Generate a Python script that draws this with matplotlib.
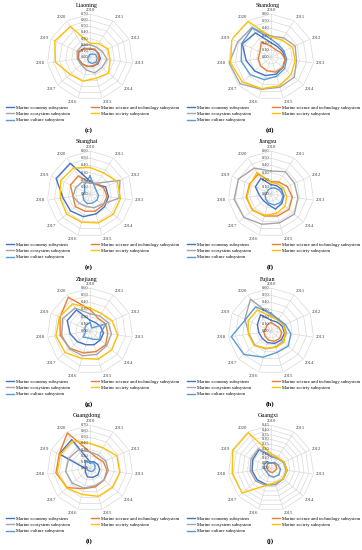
import matplotlib
matplotlib.use("Agg")
import matplotlib.pyplot as plt
import numpy as np

plt.rcParams["font.family"] = ["Liberation Serif", "DejaVu Serif"]

years = [str(y) for y in range(2010, 2021)]
series_names = [
    "Marine economy subsystem",
    "Marine science and technology subsystem",
    "Marine ecosystem subsystem",
    "Marine society subsystem",
    "Marine culture subsystem",
]
series_colors = ["#4472C4", "#ED7D31", "#A5A5A5", "#FFC000", "#5B9BD5"]

# values, 2010 ... 2020
liaoning_economy = [0.13, 0.14, 0.15, 0.17, 0.17, 0.16, 0.16, 0.17, 0.19, 0.20, 0.17]
liaoning_tech = [0.14, 0.15, 0.14, 0.15, 0.16, 0.15, 0.16, 0.17, 0.20, 0.21, 0.16]
liaoning_eco = [0.20, 0.19, 0.22, 0.28, 0.26, 0.27, 0.22, 0.19, 0.21, 0.23, 0.23]
liaoning_society = [0.22, 0.26, 0.32, 0.33, 0.40, 0.36, 0.41, 0.43, 0.57, 0.63, 0.59]
liaoning_culture = [0.04, 0.06, 0.10, 0.12, 0.13, 0.11, 0.08, 0.05, 0.03, 0.02, 0.03]

shandong_economy = [0.20, 0.17, 0.18, 0.20, 0.22, 0.25, 0.27, 0.30, 0.35, 0.44, 0.40]
shandong_tech = [0.15, 0.12, 0.15, 0.20, 0.22, 0.22, 0.20, 0.19, 0.18, 0.17, 0.25]
shandong_eco = [0.29, 0.32, 0.37, 0.36, 0.43, 0.44, 0.47, 0.57, 0.59, 0.51, 0.49]
shandong_society = [0.28, 0.28, 0.33, 0.34, 0.37, 0.42, 0.46, 0.53, 0.57, 0.60, 0.59]
shandong_culture = [0.25, 0.20, 0.20, 0.22, 0.25, 0.28, 0.33, 0.38, 0.42, 0.45, 0.48]

shanghai_economy = [0.18, 0.16, 0.24, 0.26, 0.27, 0.29, 0.33, 0.36, 0.38, 0.52, 0.51]
shanghai_tech = [0.16, 0.16, 0.21, 0.24, 0.24, 0.25, 0.25, 0.27, 0.24, 0.30, 0.30]
shanghai_eco = [0.15, 0.18, 0.46, 0.41, 0.22, 0.20, 0.18, 0.20, 0.24, 0.22, 0.20]
shanghai_society = [0.37, 0.35, 0.42, 0.43, 0.43, 0.42, 0.41, 0.43, 0.42, 0.45, 0.43]
shanghai_culture = [0.25, 0.12, 0.10, 0.12, 0.13, 0.13, 0.14, 0.12, 0.10, 0.08, 0.15]

jiangsu_economy = [0.13, 0.14, 0.16, 0.18, 0.20, 0.22, 0.15, 0.14, 0.16, 0.24, 0.26]
jiangsu_tech = [0.17, 0.20, 0.25, 0.30, 0.33, 0.32, 0.32, 0.34, 0.35, 0.33, 0.33]
jiangsu_eco = [0.32, 0.37, 0.36, 0.38, 0.43, 0.42, 0.44, 0.50, 0.52, 0.50, 0.43]
jiangsu_society = [0.16, 0.17, 0.19, 0.22, 0.26, 0.28, 0.31, 0.35, 0.34, 0.32, 0.36]
jiangsu_culture = [0.08, 0.10, 0.13, 0.17, 0.18, 0.16, 0.13, 0.10, 0.08, 0.06, 0.07]

zhejiang_economy = [0.15, 0.14, 0.16, 0.19, 0.19, 0.20, 0.20, 0.23, 0.28, 0.35, 0.35]
zhejiang_tech = [0.30, 0.21, 0.24, 0.25, 0.29, 0.30, 0.32, 0.37, 0.42, 0.46, 0.56]
zhejiang_eco = [0.24, 0.25, 0.28, 0.30, 0.31, 0.34, 0.36, 0.38, 0.40, 0.42, 0.38]
zhejiang_society = [0.32, 0.29, 0.34, 0.39, 0.40, 0.41, 0.40, 0.46, 0.48, 0.47, 0.45]
zhejiang_culture = [0.12, 0.05, 0.25, 0.15, 0.18, 0.12, 0.10, 0.13, 0.06, 0.08, 0.10]

fujian_economy = [0.15, 0.15, 0.17, 0.19, 0.19, 0.18, 0.17, 0.16, 0.17, 0.21, 0.27]
fujian_tech = [0.12, 0.10, 0.12, 0.15, 0.16, 0.15, 0.13, 0.11, 0.10, 0.08, 0.10]
fujian_eco = [0.22, 0.20, 0.20, 0.22, 0.22, 0.23, 0.26, 0.30, 0.31, 0.40, 0.53]
fujian_society = [0.20, 0.18, 0.19, 0.20, 0.24, 0.24, 0.25, 0.31, 0.32, 0.35, 0.35]
fujian_culture = [0.25, 0.19, 0.22, 0.28, 0.32, 0.31, 0.38, 0.50, 0.56, 0.39, 0.40]

guangdong_economy = [0.10, 0.12, 0.14, 0.16, 0.17, 0.16, 0.15, 0.10, 0.07, 0.55, 0.55]
guangdong_tech = [0.26, 0.20, 0.24, 0.28, 0.30, 0.32, 0.35, 0.49, 0.56, 0.55, 0.68]
guangdong_eco = [0.26, 0.25, 0.28, 0.30, 0.30, 0.30, 0.34, 0.38, 0.40, 0.38, 0.35]
guangdong_society = [0.40, 0.39, 0.48, 0.49, 0.48, 0.48, 0.45, 0.50, 0.54, 0.53, 0.52]
guangdong_culture = [0.08, 0.10, 0.09, 0.08, 0.07, 0.06, 0.05, 0.05, 0.05, 0.08, 0.15]

guangxi_economy = [0.12, 0.12, 0.15, 0.17, 0.17, 0.18, 0.18, 0.19, 0.20, 0.21, 0.23]
guangxi_tech = [0.05, 0.06, 0.06, 0.06, 0.05, 0.05, 0.04, 0.04, 0.04, 0.05, 0.06]
guangxi_eco = [0.13, 0.12, 0.14, 0.16, 0.17, 0.18, 0.19, 0.21, 0.22, 0.23, 0.24]
guangxi_society = [0.15, 0.13, 0.15, 0.17, 0.17, 0.16, 0.19, 0.40, 0.41, 0.44, 0.44]
guangxi_culture = [0.05, 0.07, 0.08, 0.10, 0.11, 0.10, 0.08, 0.06, 0.07, 0.08, 0.08]

panels = [
    ("Liaoning", "(c)", 0.70, 0.10,
     [liaoning_economy, liaoning_tech, liaoning_eco, liaoning_society, liaoning_culture]),
    ("Shandong", "(d)", 0.60, 0.10,
     [shandong_economy, shandong_tech, shandong_eco, shandong_society, shandong_culture]),
    ("Shanghai", "(e)", 0.60, 0.10,
     [shanghai_economy, shanghai_tech, shanghai_eco, shanghai_society, shanghai_culture]),
    ("Jiangsu", "(f)", 0.60, 0.10,
     [jiangsu_economy, jiangsu_tech, jiangsu_eco, jiangsu_society, jiangsu_culture]),
    ("Zhejiang", "(g)", 0.60, 0.10,
     [zhejiang_economy, zhejiang_tech, zhejiang_eco, zhejiang_society, zhejiang_culture]),
    ("Fujian", "(h)", 0.60, 0.10,
     [fujian_economy, fujian_tech, fujian_eco, fujian_society, fujian_culture]),
    ("Guangdong", "(i)", 0.70, 0.10,
     [guangdong_economy, guangdong_tech, guangdong_eco, guangdong_society, guangdong_culture]),
    ("Guangxi", "(j)", 0.45, 0.05,
     [guangxi_economy, guangxi_tech, guangxi_eco, guangxi_society, guangxi_culture]),
]

W, H = 362, 550
R = 43
grid_color = "#D9D9D9"

fig = plt.figure(figsize=(W / 100, H / 100), dpi=100)

theta = np.arange(len(years)) * 2 * np.pi / len(years)
closed_theta = np.append(theta, theta[0])

for idx, (title, tag, rmax, step, values) in enumerate(panels):
    col, row = idx % 2, idx // 2
    cx = 90 + 181 * col
    cy = 57 + 137 * row
    ax = fig.add_axes([(cx - R) / W, 1 - (cy + R) / H, 2 * R / W, 2 * R / H],
                      projection="polar")
    ax.set_theta_zero_location("N")
    ax.set_theta_direction(-1)
    ax.set_ylim(0, rmax)
    ax.grid(False)
    ax.set_xticks([])
    ax.set_yticks([])
    ax.spines["polar"].set_visible(False)
    ax.patch.set_alpha(0)

    levels = np.arange(0, rmax + step / 2, step)
    for lv in levels[1:]:
        ax.plot(closed_theta, [lv] * len(closed_theta), color=grid_color, lw=0.5, zorder=1)
    for t in theta:
        ax.plot([t, t], [0, rmax], color=grid_color, lw=0.5, zorder=1)
    for lv in levels:
        ax.text(0.485, 0.5 + 0.5 * lv / rmax, f"{lv:.2f}", transform=ax.transAxes,
                ha="right", va="center", fontsize=3.2, color="#404040", zorder=5)

    for t, year in zip(theta, years):
        s, c = np.sin(t), np.cos(t)
        ha = "left" if s > 0.2 else ("right" if s < -0.2 else "center")
        va = "bottom" if c > 0.5 else ("top" if c < -0.5 else "center")
        ax.text(t, rmax * 1.05, year, ha=ha, va=va, fontsize=3.4, color="#404040")

    handles = []
    for vals, name, color in zip(values, series_names, series_colors):
        line, = ax.plot(closed_theta, vals + vals[:1], color=color, lw=1.0, label=name,
                        zorder=3)
        handles.append(line)

    order = [0, 2, 4, 1, 3]
    fig.legend([handles[i] for i in order], [series_names[i] for i in order],
               loc="upper left", bbox_to_anchor=((6 + 181 * col) / W, 1 - (105.5 + 137 * row) / H),
               ncol=2, frameon=False, fontsize=3.3, handlelength=1.8, handletextpad=0.4,
               columnspacing=4.5, labelspacing=0.45, borderpad=0, borderaxespad=0)

    fig.text((87 + 181 * col) / W, 1 - (5 + 137 * row) / H, title,
             ha="center", va="center", fontsize=4.3)
    fig.text((89 + 181 * col) / W, 1 - (130 + 137 * row) / H, tag,
             ha="center", va="center", fontsize=5, fontweight="bold")

fig.savefig("out.png", dpi=100)
